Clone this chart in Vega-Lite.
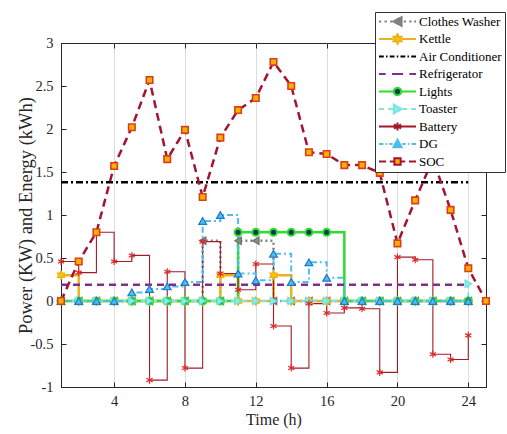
{
"$schema": "https://vega.github.io/schema/vega-lite/v6.json",
"autosize": {"type": "none"},
"padding": {"left": 61, "top": 43, "right": 21, "bottom": 47},
"width": 425,
"height": 344,
"background": "white",
"config": {
  "font": "Liberation Serif",
  "view": {"stroke": "#262626", "strokeWidth": 1},
  "legend": {"labelFont": "Liberation Serif"},
  "axis": {"domainColor": "#262626", "tickColor": "#262626", "labelColor": "#262626", "titleColor": "#262626", "labelFont": "Liberation Serif", "titleFont": "Liberation Serif", "titleFontWeight": "normal", "labelFontSize": 14.5, "titleFontSize": 16}
},
"data": {"values": [
{"s":"Clothes Washer","h":1,"v":0},{"s":"Clothes Washer","h":2,"v":0},{"s":"Clothes Washer","h":3,"v":0},{"s":"Clothes Washer","h":4,"v":0},{"s":"Clothes Washer","h":5,"v":0},{"s":"Clothes Washer","h":6,"v":0},{"s":"Clothes Washer","h":7,"v":0},{"s":"Clothes Washer","h":8,"v":0},{"s":"Clothes Washer","h":9,"v":0.7},{"s":"Clothes Washer","h":10,"v":0},{"s":"Clothes Washer","h":11,"v":0.7},{"s":"Clothes Washer","h":12,"v":0.7},{"s":"Clothes Washer","h":13,"v":0},{"s":"Clothes Washer","h":14,"v":0},{"s":"Clothes Washer","h":15,"v":0},{"s":"Clothes Washer","h":16,"v":0},{"s":"Clothes Washer","h":17,"v":0},{"s":"Clothes Washer","h":18,"v":0},{"s":"Clothes Washer","h":19,"v":0},{"s":"Clothes Washer","h":20,"v":0},{"s":"Clothes Washer","h":21,"v":0},{"s":"Clothes Washer","h":22,"v":0},{"s":"Clothes Washer","h":23,"v":0},{"s":"Clothes Washer","h":24,"v":0},
{"s":"Kettle","h":1,"v":0.3},{"s":"Kettle","h":2,"v":0},{"s":"Kettle","h":3,"v":0},{"s":"Kettle","h":4,"v":0},{"s":"Kettle","h":5,"v":0},{"s":"Kettle","h":6,"v":0},{"s":"Kettle","h":7,"v":0},{"s":"Kettle","h":8,"v":0},{"s":"Kettle","h":9,"v":0},{"s":"Kettle","h":10,"v":0.3},{"s":"Kettle","h":11,"v":0},{"s":"Kettle","h":12,"v":0},{"s":"Kettle","h":13,"v":0.3},{"s":"Kettle","h":14,"v":0},{"s":"Kettle","h":15,"v":0},{"s":"Kettle","h":16,"v":0},{"s":"Kettle","h":17,"v":0},{"s":"Kettle","h":18,"v":0},{"s":"Kettle","h":19,"v":0},{"s":"Kettle","h":20,"v":0},{"s":"Kettle","h":21,"v":0},{"s":"Kettle","h":22,"v":0},{"s":"Kettle","h":23,"v":0},{"s":"Kettle","h":24,"v":0},
{"s":"Air Conditioner","h":1,"v":1.38},{"s":"Air Conditioner","h":2,"v":1.38},{"s":"Air Conditioner","h":3,"v":1.38},{"s":"Air Conditioner","h":4,"v":1.38},{"s":"Air Conditioner","h":5,"v":1.38},{"s":"Air Conditioner","h":6,"v":1.38},{"s":"Air Conditioner","h":7,"v":1.38},{"s":"Air Conditioner","h":8,"v":1.38},{"s":"Air Conditioner","h":9,"v":1.38},{"s":"Air Conditioner","h":10,"v":1.38},{"s":"Air Conditioner","h":11,"v":1.38},{"s":"Air Conditioner","h":12,"v":1.38},{"s":"Air Conditioner","h":13,"v":1.38},{"s":"Air Conditioner","h":14,"v":1.38},{"s":"Air Conditioner","h":15,"v":1.38},{"s":"Air Conditioner","h":16,"v":1.38},{"s":"Air Conditioner","h":17,"v":1.38},{"s":"Air Conditioner","h":18,"v":1.38},{"s":"Air Conditioner","h":19,"v":1.38},{"s":"Air Conditioner","h":20,"v":1.38},{"s":"Air Conditioner","h":21,"v":1.38},{"s":"Air Conditioner","h":22,"v":1.38},{"s":"Air Conditioner","h":23,"v":1.38},{"s":"Air Conditioner","h":24,"v":1.38},
{"s":"Refrigerator","h":1,"v":0.19},{"s":"Refrigerator","h":2,"v":0.19},{"s":"Refrigerator","h":3,"v":0.19},{"s":"Refrigerator","h":4,"v":0.19},{"s":"Refrigerator","h":5,"v":0.19},{"s":"Refrigerator","h":6,"v":0.19},{"s":"Refrigerator","h":7,"v":0.19},{"s":"Refrigerator","h":8,"v":0.19},{"s":"Refrigerator","h":9,"v":0.19},{"s":"Refrigerator","h":10,"v":0.19},{"s":"Refrigerator","h":11,"v":0.19},{"s":"Refrigerator","h":12,"v":0.19},{"s":"Refrigerator","h":13,"v":0.19},{"s":"Refrigerator","h":14,"v":0.19},{"s":"Refrigerator","h":15,"v":0.19},{"s":"Refrigerator","h":16,"v":0.19},{"s":"Refrigerator","h":17,"v":0.19},{"s":"Refrigerator","h":18,"v":0.19},{"s":"Refrigerator","h":19,"v":0.19},{"s":"Refrigerator","h":20,"v":0.19},{"s":"Refrigerator","h":21,"v":0.19},{"s":"Refrigerator","h":22,"v":0.19},{"s":"Refrigerator","h":23,"v":0.19},{"s":"Refrigerator","h":24,"v":0.19},
{"s":"Lights","h":1,"v":0},{"s":"Lights","h":2,"v":0},{"s":"Lights","h":3,"v":0},{"s":"Lights","h":4,"v":0},{"s":"Lights","h":5,"v":0},{"s":"Lights","h":6,"v":0},{"s":"Lights","h":7,"v":0},{"s":"Lights","h":8,"v":0},{"s":"Lights","h":9,"v":0},{"s":"Lights","h":10,"v":0},{"s":"Lights","h":11,"v":0.8},{"s":"Lights","h":12,"v":0.8},{"s":"Lights","h":13,"v":0.8},{"s":"Lights","h":14,"v":0.8},{"s":"Lights","h":15,"v":0.8},{"s":"Lights","h":16,"v":0.8},{"s":"Lights","h":17,"v":0},{"s":"Lights","h":18,"v":0},{"s":"Lights","h":19,"v":0},{"s":"Lights","h":20,"v":0},{"s":"Lights","h":21,"v":0},{"s":"Lights","h":22,"v":0},{"s":"Lights","h":23,"v":0},{"s":"Lights","h":24,"v":0},
{"s":"Toaster","h":1,"v":0},{"s":"Toaster","h":2,"v":0},{"s":"Toaster","h":3,"v":0},{"s":"Toaster","h":4,"v":0},{"s":"Toaster","h":5,"v":0},{"s":"Toaster","h":6,"v":0},{"s":"Toaster","h":7,"v":0},{"s":"Toaster","h":8,"v":0},{"s":"Toaster","h":9,"v":0},{"s":"Toaster","h":10,"v":0},{"s":"Toaster","h":11,"v":0},{"s":"Toaster","h":12,"v":0},{"s":"Toaster","h":13,"v":0},{"s":"Toaster","h":14,"v":0},{"s":"Toaster","h":15,"v":0},{"s":"Toaster","h":16,"v":0},{"s":"Toaster","h":17,"v":0},{"s":"Toaster","h":18,"v":0},{"s":"Toaster","h":19,"v":0},{"s":"Toaster","h":20,"v":0},{"s":"Toaster","h":21,"v":0},{"s":"Toaster","h":22,"v":0},{"s":"Toaster","h":23,"v":0},{"s":"Toaster","h":24,"v":0.2},
{"s":"Battery","h":1,"v":0.46},{"s":"Battery","h":2,"v":0.33},{"s":"Battery","h":3,"v":0.8},{"s":"Battery","h":4,"v":0.46},{"s":"Battery","h":5,"v":0.53},{"s":"Battery","h":6,"v":-0.92},{"s":"Battery","h":7,"v":0.34},{"s":"Battery","h":8,"v":-0.78},{"s":"Battery","h":9,"v":0.69},{"s":"Battery","h":10,"v":0.32},{"s":"Battery","h":11,"v":0.13},{"s":"Battery","h":12,"v":0.43},{"s":"Battery","h":13,"v":-0.29},{"s":"Battery","h":14,"v":-0.78},{"s":"Battery","h":15,"v":-0.03},{"s":"Battery","h":16,"v":-0.14},{"s":"Battery","h":17,"v":-0.08},{"s":"Battery","h":18,"v":-0.09},{"s":"Battery","h":19,"v":-0.83},{"s":"Battery","h":20,"v":0.51},{"s":"Battery","h":21,"v":0.48},{"s":"Battery","h":22,"v":-0.62},{"s":"Battery","h":23,"v":-0.68},{"s":"Battery","h":24,"v":-0.4},
{"s":"DG","h":1,"v":0},{"s":"DG","h":2,"v":0},{"s":"DG","h":3,"v":0},{"s":"DG","h":4,"v":0},{"s":"DG","h":5,"v":0.1},{"s":"DG","h":6,"v":0.14},{"s":"DG","h":7,"v":0.17},{"s":"DG","h":8,"v":0.22},{"s":"DG","h":9,"v":0.93},{"s":"DG","h":10,"v":1.0},{"s":"DG","h":11,"v":0.32},{"s":"DG","h":12,"v":0.24},{"s":"DG","h":13,"v":0.55},{"s":"DG","h":14,"v":0.22},{"s":"DG","h":15,"v":0.45},{"s":"DG","h":16,"v":0.27},{"s":"DG","h":17,"v":0},{"s":"DG","h":18,"v":0},{"s":"DG","h":19,"v":0},{"s":"DG","h":20,"v":0},{"s":"DG","h":21,"v":0},{"s":"DG","h":22,"v":0},{"s":"DG","h":23,"v":0},{"s":"DG","h":24,"v":0},
{"s":"SOC","h":1,"v":0},{"s":"SOC","h":2,"v":0.46},{"s":"SOC","h":3,"v":0.8},{"s":"SOC","h":4,"v":1.57},{"s":"SOC","h":5,"v":2.02},{"s":"SOC","h":6,"v":2.57},{"s":"SOC","h":7,"v":1.65},{"s":"SOC","h":8,"v":1.99},{"s":"SOC","h":9,"v":1.21},{"s":"SOC","h":10,"v":1.9},{"s":"SOC","h":11,"v":2.22},{"s":"SOC","h":12,"v":2.36},{"s":"SOC","h":13,"v":2.78},{"s":"SOC","h":14,"v":2.5},{"s":"SOC","h":15,"v":1.73},{"s":"SOC","h":16,"v":1.71},{"s":"SOC","h":17,"v":1.58},{"s":"SOC","h":18,"v":1.58},{"s":"SOC","h":19,"v":1.49},{"s":"SOC","h":20,"v":0.67},{"s":"SOC","h":21,"v":1.17},{"s":"SOC","h":22,"v":1.65},{"s":"SOC","h":23,"v":1.06},{"s":"SOC","h":24,"v":0.38},{"s":"SOC","h":25,"v":0}
]},
"layer": [
{
  "transform": [{"filter": "indexof(['Clothes Washer','Kettle','Lights','Toaster','Battery','DG'], datum.s) >= 0"}],
  "mark": {"type": "line", "interpolate": "step-after"},
  "encoding": {
    "x": {"field": "h", "type": "quantitative", "scale": {"domain": [1, 25], "nice": false, "zero": false},
      "axis": {"orient": "bottom", "values": [4, 8, 12, 16, 20, 24], "title": "Time (h)", "grid": true, "gridColor": "#dcdcdc", "tickSize": -5, "labelPadding": 12, "titlePadding": 4}},
    "y": {"field": "v", "type": "quantitative", "scale": {"domain": [-1, 3], "nice": false, "zero": false},
      "axis": {"orient": "left", "values": [-1, -0.5, 0, 0.5, 1, 1.5, 2, 2.5, 3], "labelExpr": "datum.value + ''", "title": "Power  (KW) and Energy (kWh)", "titleFontSize": 18.5, "grid": false, "tickSize": -5, "labelPadding": 13, "titlePadding": -5}},
    "color": {"field": "s", "type": "nominal",
      "scale": {"domain": ["Clothes Washer","Kettle","Air Conditioner","Refrigerator","Lights","Toaster","Battery","DG","SOC"],
                "range": ["#808080","#EDB120","#000000","#7E2F8E","#2EDD2E","#7FE3E3","#A01A28","#4DBEEE","#A2142F"]},
      "legend": {"orient": "none", "legendX": 314, "legendY": -31, "title": null, "labelFont": "Liberation Serif", "labelFontSize": 13, "labelColor": "#000000", "symbolSize": 1369, "symbolStrokeWidth": 2, "clipHeight": 13, "labelOffset": 2, "symbolOffset": 0, "rowPadding": 3.5, "padding": 3, "strokeColor": "#333333", "fillColor": "white", "labelLimit": 200,
        "encode": {"symbols": {"update": {
          "size": {"value": 1369},
          "shape": {"signal": "['M-1,0H-0.88M-0.7,0H-0.58M-0.4,0H-0.28M0.22,-0.24L-0.22,0L0.22,0.24ZM0.34,0H0.46M0.64,0H0.76M0.9,0H1','M-1,0H-0.24M0.24,0H1M0,-0.25L0.072,-0.125L0.217,-0.125L0.144,0L0.217,0.125L0.072,0.125L0,0.25L-0.072,0.125L-0.217,0.125L-0.144,0L-0.217,-0.125L-0.072,-0.125Z','M-1,0H-0.74M-0.62,0H-0.54M-0.42,0H-0.16M-0.04,0H0.04M0.16,0H0.42M0.54,0H0.62M0.74,0H1','M-1,0H-0.64M-0.3,0H0.3M0.64,0H1','M-1,0H-0.22M0.22,0H1M-0.2,0A0.2,0.2 0 1,0 0.2,0A0.2,0.2 0 1,0 -0.2,0Z','M-1,0H-0.72M-0.5,0H-0.26M-0.2,-0.24L0.22,0L-0.2,0.24ZM0.3,0H0.52M0.74,0H1','M-1,0H1M0,-0.22V0.22M-0.19,-0.11L0.19,0.11M-0.19,0.11L0.19,-0.11','M-1,0H-0.76M-0.64,0H-0.56M-0.44,0H-0.26M-0.22,0.18L0,-0.24L0.22,0.18ZM0.26,0H0.44M0.56,0H0.64M0.76,0H1','M-1,0H-0.62M-0.42,0H-0.2M-0.17,-0.17H0.17V0.17H-0.17ZM0.2,0H0.42M0.62,0H1'][indexof(['Clothes Washer','Kettle','Air Conditioner','Refrigerator','Lights','Toaster','Battery','DG','SOC'], datum.value)]"},
          "fill": {"signal": "['#808080','#F7C600','transparent','transparent','#0B3A5A','#7FF2EA','transparent','#4DBEEE','#FFAA00'][indexof(['Clothes Washer','Kettle','Air Conditioner','Refrigerator','Lights','Toaster','Battery','DG','SOC'], datum.value)]"},
          "stroke": {"signal": "['#7F7F7F','#EDB120','#000000','#7E2F8E','#22DD22','#7FE3E3','#A2142F','#3A9FDA','#A2142F'][indexof(['Clothes Washer','Kettle','Air Conditioner','Refrigerator','Lights','Toaster','Battery','DG','SOC'], datum.value)]"},
          "strokeWidth": {"value": 2},
          "strokeDash": {"value": [1, 0]},
          "opacity": {"value": 1}
        }}}}},
    "strokeDash": {"condition": [
        {"test": "datum.s === 'Clothes Washer'", "value": [2, 3]},
        {"test": "datum.s === 'Toaster'", "value": [6, 4]},
        {"test": "datum.s === 'DG'", "value": [6, 3, 2, 3]}], "value": [1, 0]},
    "strokeWidth": {"condition": [
        {"test": "datum.s === 'Battery'", "value": 1.1},
        {"test": "datum.s === 'Toaster' || datum.s === 'DG'", "value": 2}], "value": 2.5}
  }
},
{
  "transform": [{"filter": "indexof(['Air Conditioner','Refrigerator','SOC'], datum.s) >= 0"}],
  "mark": {"type": "line", "strokeWidth": 2.5},
  "encoding": {
    "x": {"field": "h", "type": "quantitative", "axis": null},
    "y": {"field": "v", "type": "quantitative", "axis": null},
    "color": {"field": "s", "type": "nominal"},
    "strokeDash": {"condition": [
        {"test": "datum.s === 'Air Conditioner'", "value": [7, 3, 2, 3]},
        {"test": "datum.s === 'Refrigerator'", "value": [7, 5]}], "value": [8, 5]}
  }
},
{
  "transform": [{"filter": "indexof(['Air Conditioner','Refrigerator'], datum.s) < 0"}],
  "mark": {"type": "point", "filled": true, "opacity": 1},
  "encoding": {
    "x": {"field": "h", "type": "quantitative",
      "axis": {"orient": "top", "values": [4, 8, 12, 16, 20, 24], "labels": false, "title": null, "grid": false, "domain": false, "tickSize": -5}},
    "y": {"field": "v", "type": "quantitative",
      "axis": {"orient": "right", "values": [-1, -0.5, 0, 0.5, 1, 1.5, 2, 2.5, 3], "labels": false, "title": null, "grid": false, "domain": false, "tickSize": -5}},
    "shape": {"condition": [
        {"test": "datum.s === 'Clothes Washer'", "value": "triangle-left"},
        {"test": "datum.s === 'Kettle'", "value": "M0,-1L0.289,-0.5L0.866,-0.5L0.577,0L0.866,0.5L0.289,0.5L0,1L-0.289,0.5L-0.866,0.5L-0.577,0L-0.866,-0.5L-0.289,-0.5Z"},
        {"test": "datum.s === 'Lights'", "value": "circle"},
        {"test": "datum.s === 'Toaster'", "value": "triangle-right"},
        {"test": "datum.s === 'Battery'", "value": "M0,-1V1M-0.87,-0.5L0.87,0.5M-0.87,0.5L0.87,-0.5"},
        {"test": "datum.s === 'DG'", "value": "triangle-up"}], "value": "square"},
    "fill": {"condition": [
        {"test": "datum.s === 'Clothes Washer'", "value": "#8C8C8C"},
        {"test": "datum.s === 'Kettle'", "value": "#F7C600"},
        {"test": "datum.s === 'Lights'", "value": "#0B3A5A"},
        {"test": "datum.s === 'Toaster'", "value": "#7FF2EA"},
        {"test": "datum.s === 'Battery'", "value": "transparent"},
        {"test": "datum.s === 'DG'", "value": "#4DBEEE"}], "value": "#FFB000"},
    "stroke": {"condition": [
        {"test": "datum.s === 'Clothes Washer'", "value": "#707070"},
        {"test": "datum.s === 'Kettle'", "value": "#EDB120"},
        {"test": "datum.s === 'Lights'", "value": "#33DD33"},
        {"test": "datum.s === 'Toaster'", "value": "#6FE0E0"},
        {"test": "datum.s === 'Battery'", "value": "#E02828"},
        {"test": "datum.s === 'DG'", "value": "#1F78C8"}], "value": "#D9401A"},
    "strokeWidth": {"condition": [
        {"test": "datum.s === 'Lights'", "value": 2},
        {"test": "datum.s === 'SOC'", "value": 1.6}], "value": 1.2},
    "size": {"condition": [
        {"test": "datum.s === 'Clothes Washer'", "value": 55},
        {"test": "datum.s === 'Kettle'", "value": 70},
        {"test": "datum.s === 'Lights'", "value": 50},
        {"test": "datum.s === 'Toaster'", "value": 55},
        {"test": "datum.s === 'Battery'", "value": 50},
        {"test": "datum.s === 'DG'", "value": 60}], "value": 42}
  }
}
],
"resolve": {"axis": {"x": "independent", "y": "independent"}}
}
